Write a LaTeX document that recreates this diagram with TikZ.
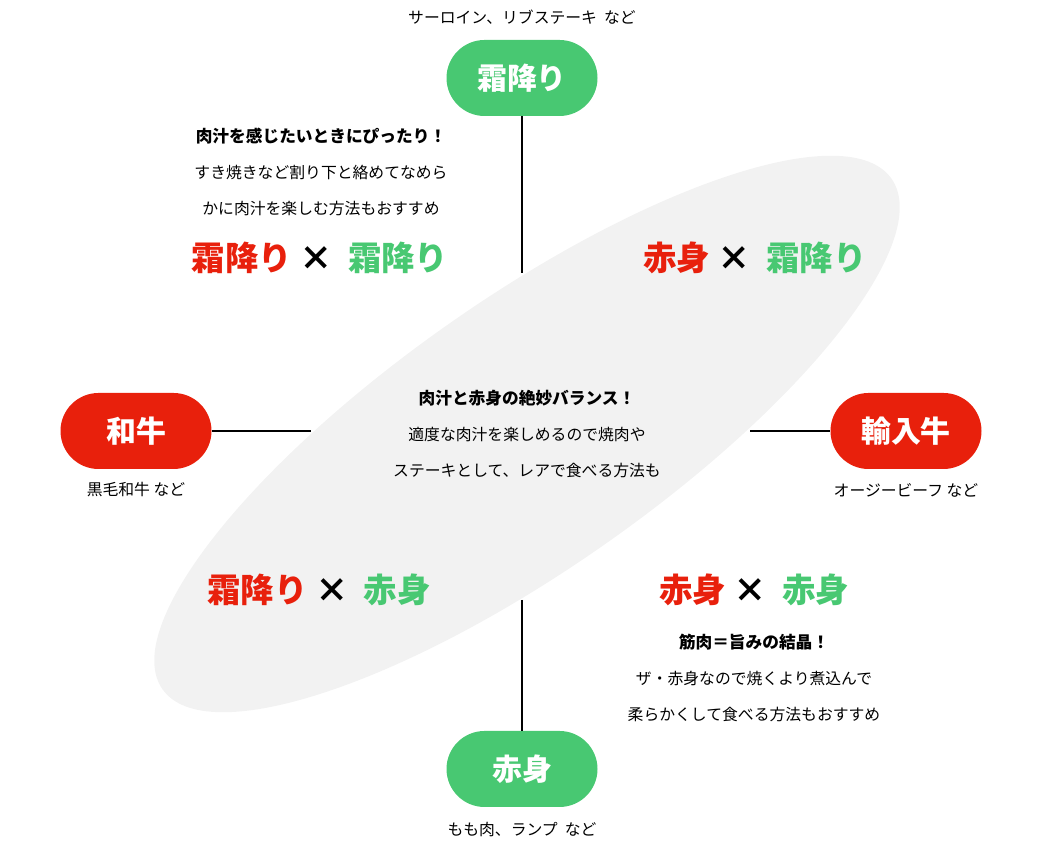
\documentclass[tikz,border=0pt]{standalone}
\usepackage{fontspec}
\setmainfont{Noto Sans CJK JP}
\usepackage{xcolor}
\definecolor{meatred}{RGB}{232,32,12}
\definecolor{meatgreen}{RGB}{72,200,114}
\definecolor{ovalgray}{RGB}{242,242,242}
\usetikzlibrary{positioning}

\tikzset{
  pill/.style={rounded corners=0.76cm, minimum width=3.02cm, minimum height=1.52cm, inner sep=0pt, text=white, font=\fontsize{17}{20}\selectfont\bfseries},
  pillgreen/.style={pill, fill=meatgreen},
  pillred/.style={pill, fill=meatred},
  caption/.style={font=\fontsize{9}{10}\selectfont, align=center},
  combo/.style={font=\fontsize{19}{22}\selectfont\bfseries, align=center},
  note/.style={font=\fontsize{9}{20.5}\selectfont, align=center},
  axis line/.style={line width=0.9pt, black}
}
\newcommand{\notehead}[1]{{\fontsize{9.5}{20.5}\selectfont\bfseries #1}}

\begin{document}
\begin{tikzpicture}
  \useasboundingbox (0,0) rectangle (20.86,17.1);

  % Center oval
  \fill[ovalgray, rotate around={35:(10.54,8.42)}] (10.54,8.42) ellipse (8.9cm and 2.7cm);

  % --- Axis ends ---
  \node[pillgreen] (shimofuri) at (10.44,15.54) {霜降り};
  \node[caption] (shimofuricap) at (10.44,16.76) {サーロイン、リブステーキ\ \ など};

  \node[pillgreen] (akami) at (10.44,1.72) {赤身};
  \node[caption] (akamicap) at (10.44,0.5) {もも肉、ランプ\ \ など};

  \node[pillred] (wagyu) at (2.72,8.48) {和牛};
  \node[caption] (wagyucap) at (2.72,7.3) {黒毛和牛\ など};

  \node[pillred] (yunyu) at (18.12,8.48) {輸入牛};
  \node[caption] (yunyucap) at (18.12,7.3) {オージービーフ など};

  % Axis lines
  \coordinate (topend) at (10.44,11.64);
  \coordinate (bottomend) at (10.44,5.1);
  \coordinate (leftend) at (6.22,8.48);
  \coordinate (rightend) at (15.0,8.48);
  \draw[axis line] (shimofuri.south) -- (topend);
  \draw[axis line] (bottomend) -- (akami.north);
  \draw[axis line] (wagyu.east) -- (leftend);
  \draw[axis line] (rightend) -- (yunyu.west);

  % --- Quadrant labels ---
  \node[combo] (combotl) at (6.4,11.94) {\textcolor{meatred}{霜降り}\ × \ \textcolor{meatgreen}{霜降り}};
  \node[combo] (combotr) at (15.1,11.94) {\textcolor{meatred}{赤身}\ × \ \textcolor{meatgreen}{霜降り}};
  \node[combo] (combobl) at (6.38,5.3) {\textcolor{meatred}{霜降り}\ × \ \textcolor{meatgreen}{赤身}};
  \node[combo] (combobr) at (15.08,5.3) {\textcolor{meatred}{赤身}\ × \ \textcolor{meatgreen}{赤身}};

  % --- Notes ---
  \node[note] (notetl) at (6.42,13.66) {\notehead{肉汁を感じたいときにぴったり！}\\すき焼きなど割り下と絡めてなめら\\かに肉汁を楽しむ方法もおすすめ};
  \node[note] (notemid) at (10.54,8.42) {\notehead{肉汁と赤身の絶妙バランス！}\\適度な肉汁を楽しめるので焼肉や\\ステーキとして、レアで食べる方法も};
  \node[note] (notebr) at (15.08,3.54) {\notehead{筋肉＝旨みの結晶！}\\ザ・赤身なので焼くより煮込んで\\柔らかくして食べる方法もおすすめ};
\end{tikzpicture}
\end{document}
